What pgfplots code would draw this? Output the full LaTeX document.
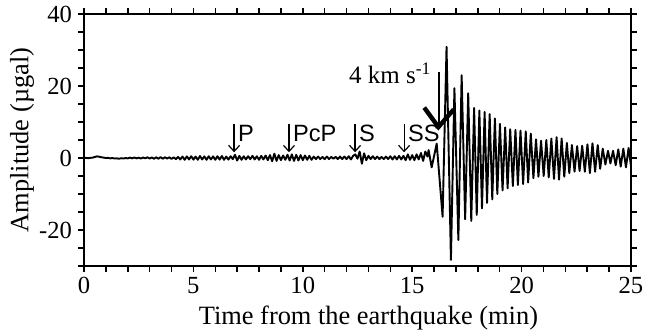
\documentclass[border=0pt]{standalone}
\usepackage{fontspec}
\setmainfont{Liberation Serif}
\setsansfont{Liberation Sans}
\usepackage{pgfplots}
\pgfplotsset{compat=1.18}
\usetikzlibrary{arrows.meta}
\tikzset{
  phase/.style={line width=0.6pt, -{Straight Barb[length=3pt,width=5.5pt]}},
  phlab/.style={anchor=base west, inner sep=0pt, xshift=1.8pt, font=\fontsize{11.8}{13}\sffamily},
}
\begin{document}
\begin{tikzpicture}
\begin{axis}[
  scale only axis, width=273.5pt, height=126pt,
  xmin=0, xmax=25, ymin=-30, ymax=40,
  xtick={0,5,...,25}, minor x tick num=4,
  ytick={-20,0,20,40}, minor ytick={-30,-25,-15,-10,-5,5,10,15,25,30,35},
  tick align=outside, major tick length=2.8pt, minor tick length=2.8pt,
  axis line style={line width=0.75pt},
  every tick/.style={black, line width=0.75pt},
  tick label style={font=\fontsize{12.3}{14}\selectfont, /pgf/number format/assume math mode=true},
  xticklabel style={inner sep=2.8pt},
  yticklabel style={inner sep=3pt},
  xlabel={Time from the earthquake (min)},
  ylabel={Amplitude (µgal)},
  label style={font=\fontsize{13.2}{15}\selectfont},
  xlabel style={at={(axis description cs:0.52,0)}, anchor=base, yshift=-29.5pt},
  ylabel style={at={(axis description cs:-0.113,0.5)}, anchor=center},
  clip=true,
]
\addplot[black, line width=0.95pt, line join=round] coordinates {
(0.0,0.0) (0.1,0.05) (0.2,-0.05) (0.3,0.05) (0.4,0.1) (0.5,0.3) (0.6,0.45) (0.7,0.35) (0.8,0.2) (0.9,0.1)
(1.0,0.0) (1.1,0.05) (1.2,-0.1) (1.3,0.0) (1.4,-0.15) (1.5,-0.1) (1.6,-0.2) (1.7,-0.05) (1.8,-0.15) (1.9,0.0)
(2.0,-0.1) (2.1,0.1) (2.2,-0.1) (2.3,0.15) (2.4,-0.1) (2.5,0.1) (2.6,-0.15) (2.7,0.15) (2.8,-0.1) (2.9,0.2)
(3.0,-0.15) (3.1,0.15) (3.2,-0.2) (3.3,0.2) (3.4,-0.2) (3.5,0.25) (3.6,-0.2) (3.7,0.2) (3.8,-0.15) (3.9,0.2)
(4.0,-0.25) (4.1,0.2) (4.2,-0.3) (4.3,0.3) (4.4,-0.4) (4.5,0.4) (4.6,-0.5) (4.7,0.45) (4.8,-0.4) (4.9,0.5)
(5.0,-0.45) (5.1,0.4) (5.2,-0.5) (5.3,0.55) (5.4,-0.4) (5.5,0.45) (5.6,-0.5) (5.7,0.5) (5.8,-0.4) (5.9,0.45)
(6.0,-0.5) (6.1,0.5) (6.2,-0.45) (6.3,0.55) (6.4,-0.5) (6.5,0.4) (6.6,-0.45) (6.7,0.5) (6.8,-0.3) (6.9,0.9)
(7.0,-0.7) (7.1,0.6) (7.2,-0.5) (7.3,0.5) (7.4,-0.4) (7.5,0.5) (7.6,-0.3) (7.7,0.6) (7.8,-0.4) (7.9,0.5)
(8.0,-0.5) (8.1,0.6) (8.2,-0.4) (8.3,0.7) (8.4,-0.6) (8.5,0.8) (8.6,-0.9) (8.7,1.2) (8.8,-0.8) (8.9,0.8)
(9.0,-0.6) (9.1,0.7) (9.2,-0.5) (9.3,0.9) (9.4,-0.7) (9.5,1.0) (9.6,-0.8) (9.7,0.9) (9.8,-0.7) (9.9,0.8)
(10.0,-0.6) (10.1,0.7) (10.2,-0.5) (10.3,0.6) (10.4,-0.5) (10.5,0.4) (10.6,-0.3) (10.7,0.4) (10.8,-0.3) (10.9,0.3)
(11.0,-0.3) (11.1,0.4) (11.2,-0.3) (11.3,0.3) (11.4,-0.2) (11.5,0.3) (11.6,-0.3) (11.7,0.4) (11.8,-0.3) (11.9,0.4)
(12.0,-0.3) (12.1,0.5) (12.2,-0.4) (12.3,0.6) (12.4,1.0) (12.5,-0.2) (12.6,1.8) (12.7,-1.6) (12.8,1.3) (12.9,-0.6)
(13.0,0.6) (13.1,-0.3) (13.2,0.5) (13.3,-0.3) (13.4,0.4) (13.5,-0.3) (13.6,0.3) (13.7,-0.3) (13.8,0.4) (13.9,-0.3)
(14.0,0.5) (14.1,-0.4) (14.2,0.5) (14.3,-0.4) (14.4,0.6) (14.5,-0.4) (14.6,0.6) (14.7,-0.6) (14.8,1.0) (14.9,-0.5)
(15.0,0.8) (15.1,-0.6) (15.2,1.0) (15.3,-0.4) (15.4,1.4) (15.5,-0.8) (15.6,1.8) (15.7,0.4) (15.75,2.2) (15.89,-2.6)
(16.12,4.0)
(16.39,-16.3) (16.57,30.9) (16.77,-28.3) (16.93,19.4) (17.11,-22.8) (17.26,23.0) (17.42,-17.0) (17.56,18.0)
(17.70,-17.5) (17.83,13.9) (17.95,-15.8) (18.07,13.2) (18.19,-14.0) (18.31,12.8) (18.42,-12.5) (18.54,12.2)
(18.66,-11.5) (18.78,11.0) (18.89,-10.0) (19.01,9.5) (19.13,-9.0) (19.25,8.5) (19.36,-8.4) (19.48,8.0)
(19.60,-7.8) (19.72,7.8) (19.83,-7.5) (19.95,7.6) (20.07,-7.2) (20.19,7.4) (20.30,-6.8) (20.42,6.8)
(20.54,-5.6) (20.66,5.2) (20.77,-5.2) (20.89,4.8) (21.01,-5.0) (21.13,5.0) (21.24,-5.4) (21.36,5.4)
(21.48,-5.8) (21.60,5.8) (21.71,-6.0) (21.83,5.4) (21.95,-5.2) (22.07,4.2) (22.18,-4.2) (22.30,3.6)
(22.42,-3.8) (22.54,3.3) (22.65,-3.6) (22.77,3.4) (22.89,-3.8) (23.01,3.8) (23.12,-4.2) (23.24,4.1)
(23.36,-3.8) (23.48,3.6) (23.59,-3.0) (23.71,2.6) (23.83,-1.8) (23.95,2.0) (24.06,-1.5) (24.18,2.0)
(24.30,-2.0) (24.42,2.4) (24.53,-2.4) (24.65,2.6) (24.77,-2.6) (24.89,2.8) (25.00,-2.2)
};
% phase arrows
\draw[phase] (axis cs:6.86,9.4) -- (axis cs:6.86,1.6);
\node[phlab] at (axis cs:6.86,4.6) {P};
\draw[phase] (axis cs:9.37,9.4) -- (axis cs:9.37,1.6);
\node[phlab] at (axis cs:9.37,4.6) {PcP};
\draw[phase] (axis cs:12.39,9.4) -- (axis cs:12.39,1.6);
\node[phlab] at (axis cs:12.39,4.6) {S};
\draw[phase] (axis cs:14.63,9.4) -- (axis cs:14.63,1.6);
\node[phlab] at (axis cs:14.63,4.6) {SS};
% 4 km/s arrow
\draw[line width=1.3pt] (axis cs:16.22,24) -- (axis cs:16.22,9.5);
\draw[line width=2.2pt, line join=miter] (axis cs:15.55,14) -- (axis cs:16.2,8.6) -- (axis cs:16.9,13.5);
\node[anchor=base east, inner sep=0pt, xshift=-3.5pt, font=\fontsize{12.5}{14}\selectfont] at (axis cs:16.22,20.7) {4 km s\textsuperscript{-1}};
\end{axis}
\pgfresetboundingbox
\path[use as bounding box] (-42pt,-33.5pt) rectangle (280.5pt,133pt);
\end{tikzpicture}
\end{document}
